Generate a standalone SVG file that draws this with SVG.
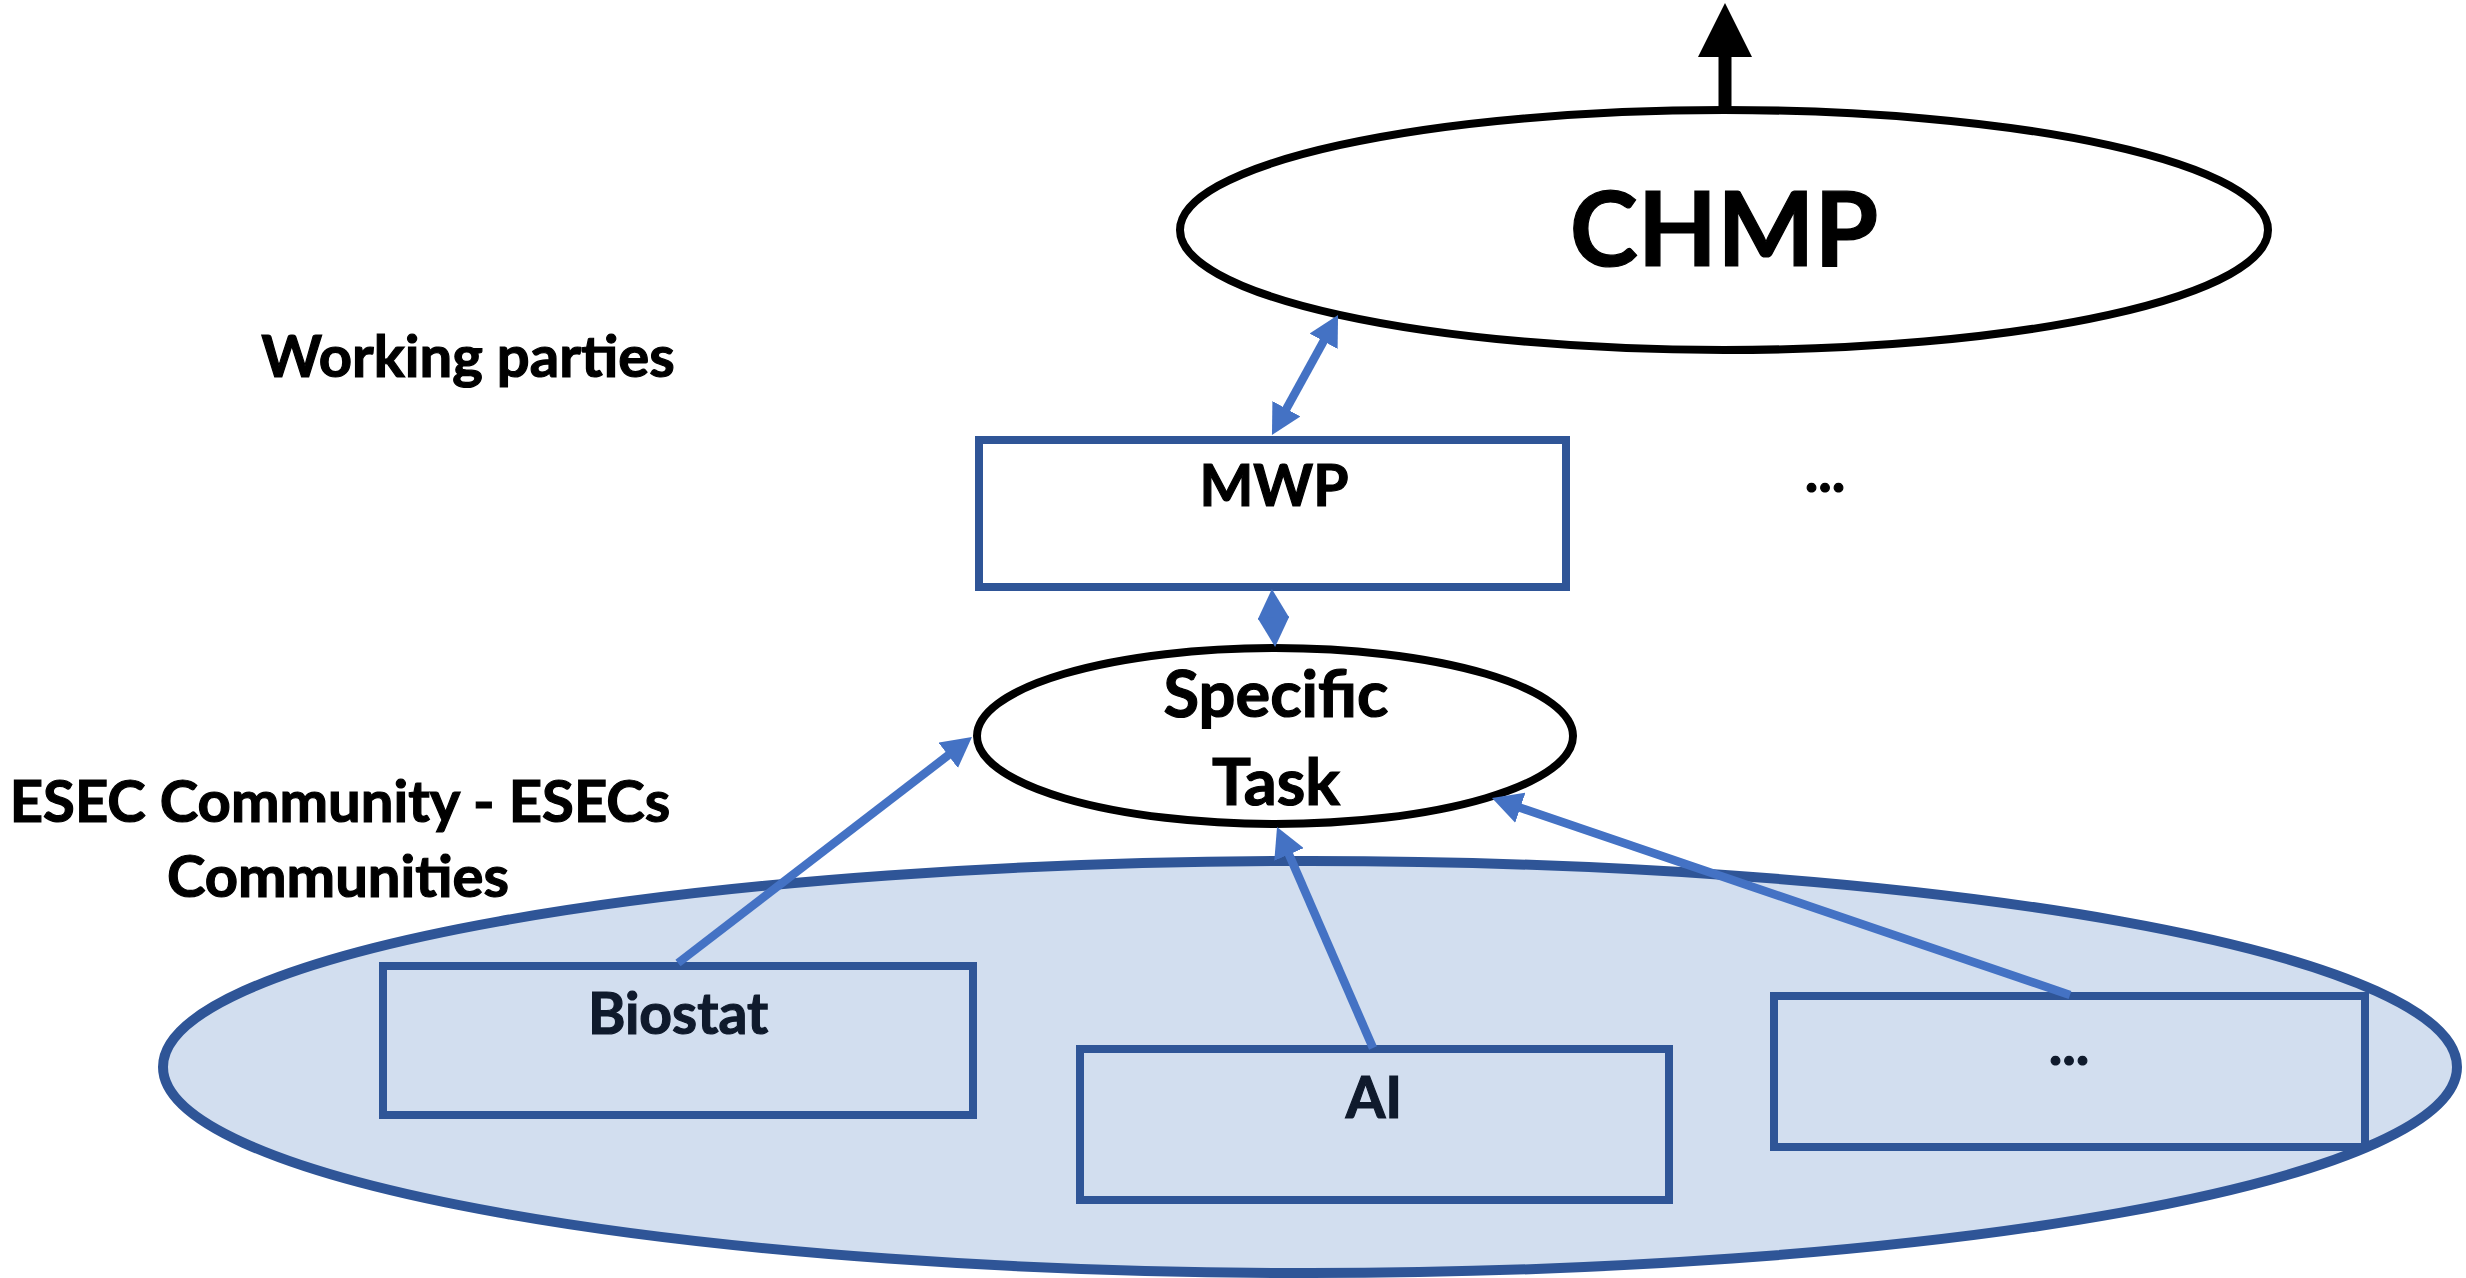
<svg xmlns="http://www.w3.org/2000/svg" width="2466" height="1278" viewBox="0 0 2466 1278">
<style>
  text { font-family: Lato, "Open Sans", "Liberation Sans", sans-serif; font-weight: 700; text-anchor: middle; stroke-width: 1.2; }
  .lbl { fill: #000000; stroke: #000000; }
  .in { fill: #0F1A2C; stroke: #0F1A2C; }
  .box { fill: none; stroke: #2F5597; stroke-width: 8; }
  .oval { fill: #FFFFFF; stroke: #000000; stroke-width: 8; }
  .conn { fill: none; stroke: #4472C4; stroke-width: 8.5; }
</style>
<defs>
  <marker id="ah" viewBox="0 0 30 32" refX="10" refY="16" markerWidth="30" markerHeight="32" markerUnits="userSpaceOnUse" orient="auto-start-reverse">
    <path d="M0,0 L30,16 L0,32 z" fill="#4472C4"/>
  </marker>
</defs>
<rect width="2466" height="1278" fill="#FFFFFF"/>

<g id="esec-community">
  <ellipse cx="1310" cy="1067" rx="1147" ry="206" fill="#D2DEEF" stroke="#2F5597" stroke-width="10"/>
</g>

<g id="biostat">
  <rect class="box" x="383" y="966" width="590" height="149"/>
  <text class="in" x="678" y="1034" font-size="57">Biostat</text>
</g>
<g id="ai">
  <rect class="box" x="1080" y="1049" width="589" height="151"/>
  <text class="in" x="1374" y="1118" font-size="57">AI</text>
</g>
<g id="other-esec">
  <rect class="box" x="1774" y="996" width="591" height="151"/>
  <text class="in" x="2069" y="1065" font-size="57">...</text>
</g>

<g id="chmp">
  <ellipse class="oval" cx="1724" cy="230" rx="544" ry="120"/>
  <text class="lbl" x="1724" y="266" font-size="103">CHMP</text>
</g>

<g id="mwp">
  <rect class="box" x="979" y="440" width="587" height="147" fill="#FFFFFF"/>
  <text class="lbl" x="1274" y="506" font-size="57">MWP</text>
</g>

<g id="other-wp">
  <text class="lbl" x="1825" y="492" font-size="57">...</text>
</g>

<g id="specific-task">
  <ellipse class="oval" cx="1275" cy="736" rx="298" ry="88"/>
  <text class="lbl" x="1276" y="717" font-size="65">Specific</text>
  <text class="lbl" x="1276" y="805" font-size="65">Task</text>
</g>

<g id="labels">
  <text class="lbl" x="468" y="377" font-size="58">Working parties</text>
  <text class="lbl" x="340" y="822" font-size="58">ESEC Community - ESECs</text>
  <text class="lbl" x="338" y="897" font-size="58">Communities</text>
</g>

<g id="connectors">
  <line x1="1725" y1="110" x2="1725" y2="50" stroke="#000000" stroke-width="13"/>
  <polygon points="1725,3 1698,57 1752,57" fill="#000000"/>
  <path class="conn" d="M1281.6,417.5 L1328.4,332.5" marker-start="url(#ah)" marker-end="url(#ah)"/>
  <path class="conn" d="M1273,609 L1274,627" marker-start="url(#ah)" marker-end="url(#ah)"/>
  <path class="conn" d="M678,963 L956.1,749.2" marker-end="url(#ah)"/>
  <path class="conn" d="M1373,1048 L1285,845.3" marker-end="url(#ah)"/>
  <path class="conn" d="M2070,995 L1510.9,804.5" marker-end="url(#ah)"/>
</g>
</svg>
